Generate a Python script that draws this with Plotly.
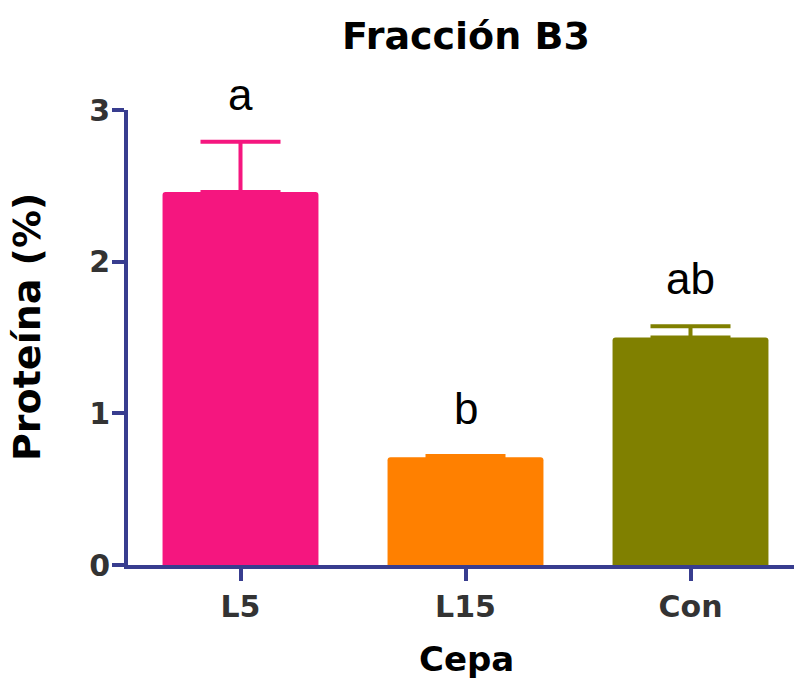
import plotly.graph_objects as go

# Protein content of fraction B3 for each strain (mean and upper error)
cepas = ["L5", "L15", "Con"]
proteina = [2.46, 0.71, 1.50]
error_sup = [0.33, 0.008, 0.075]
letras = ["a", "b", "ab"]
colores = ["#F5167F", "#FF8000", "#808000"]
y_ticks = [0, 1, 2, 3]

AXIS_COLOR = "#383D8F"
BOLD = "DejaVu Sans"

W, H = 794, 681
ML, MR, MT, MB = 128, 0, 110, 116
PW = W - ML - MR
PH = H - MT - MB


def px_x(p):
    """Pixel column -> paper x."""
    return (p - ML) / PW


def px_y(p):
    """Pixel row -> paper y."""
    return 1 - (p - MT) / PH


fig = go.Figure()
for cepa, val, err, col in zip(cepas, proteina, error_sup, colores):
    fig.add_trace(go.Bar(
        x=[cepa], y=[val],
        width=0.693,
        marker=dict(color=col, line=dict(width=0)),
        error_y=dict(type="data", symmetric=False, array=[err], arrayminus=[0],
                     color=col, thickness=4, width=40),
        showlegend=False,
    ))

# Significance letters above each error bar
for cepa, val, err, letra in zip(cepas, proteina, error_sup, letras):
    fig.add_annotation(
        x=cepa, y=val + err, xref="x", yref="y",
        text=letra, showarrow=False, yanchor="bottom", yshift=21,
        font=dict(family="Liberation Sans", size=44, color="#000000"),
    )

# Axis titles
fig.add_annotation(
    x=px_x(466), y=px_y(659), xref="paper", yref="paper",
    text="Cepa", showarrow=False, xanchor="center", yanchor="middle",
    font=dict(family=BOLD, size=34, color="#000000", weight="bold"),
)
fig.add_annotation(
    x=px_x(27), y=px_y(327), xref="paper", yref="paper",
    text="Proteína (%)", showarrow=False, textangle=-90,
    xanchor="center", yanchor="middle",
    font=dict(family=BOLD, size=38, color="#000000", weight="bold"),
)

fig.update_layout(
    width=W, height=H,
    margin=dict(l=ML, r=MR, t=MT, b=MB),
    paper_bgcolor="white", plot_bgcolor="white",
    barmode="overlay", barcornerradius=3,
    title=dict(text="<b>Fracción B3</b>", x=466 / W, xref="container", xanchor="center",
               y=1 - 36 / H, yref="container", yanchor="middle",
               font=dict(family=BOLD, size=38, color="#000000")),
    xaxis=dict(
        range=[-0.5, 2.46], showgrid=False, zeroline=False,
        showline=True, linecolor=AXIS_COLOR, linewidth=4,
        ticks="outside", ticklen=12, tickwidth=4, tickcolor=AXIS_COLOR,
        tickfont=dict(family=BOLD, size=30, color="#333333", weight="bold"),
    ),
    yaxis=dict(
        range=[0, 3], tickvals=y_ticks, showgrid=False, zeroline=False,
        showline=True, linecolor=AXIS_COLOR, linewidth=4,
        ticks="outside", ticklen=12, tickwidth=4, tickcolor=AXIS_COLOR,
        ticklabelstandoff=-4,
        tickfont=dict(family=BOLD, size=30, color="#333333", weight="bold"),
    ),
)

fig.write_html("out.html")
